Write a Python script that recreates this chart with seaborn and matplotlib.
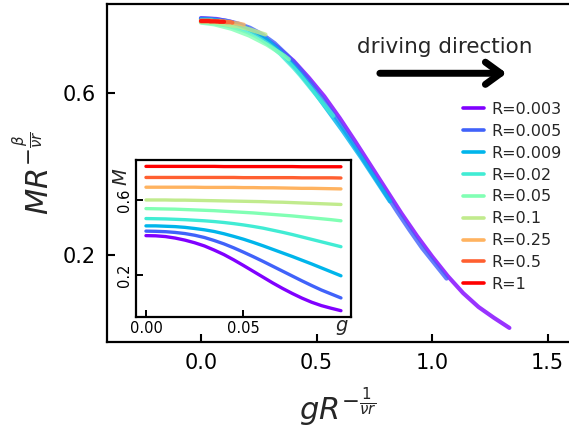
import numpy as np
import pandas as pd
import matplotlib
matplotlib.use("Agg")
import matplotlib.pyplot as plt
import seaborn as sns
from matplotlib.ticker import FormatStrFormatter

# ---------------- data ----------------
R_values = [0.003, 0.005, 0.009, 0.02, 0.05, 0.1, 0.25, 0.5, 1]
g_values = [0.000, 0.005, 0.010, 0.015, 0.020, 0.025, 0.030, 0.035, 0.040, 0.045, 0.050,
            0.055, 0.060, 0.065, 0.070, 0.075, 0.080, 0.085, 0.090, 0.095, 0.100]

M_R0003 = [0.410, 0.409, 0.405, 0.397, 0.386, 0.372, 0.355, 0.333, 0.309, 0.281, 0.251,
           0.220, 0.189, 0.158, 0.129, 0.102, 0.077, 0.055, 0.037, 0.023, 0.010]
M_R0005 = [0.434, 0.433, 0.431, 0.427, 0.421, 0.412, 0.400, 0.384, 0.366, 0.345, 0.322,
           0.298, 0.273, 0.247, 0.221, 0.195, 0.169, 0.144, 0.120, 0.099, 0.078]
M_R0009 = [0.462, 0.462, 0.460, 0.458, 0.454, 0.448, 0.441, 0.432, 0.420, 0.406, 0.391,
           0.374, 0.356, 0.337, 0.318, 0.299, 0.279, 0.259, 0.238, 0.217, 0.196]
M_R002 = [0.501, 0.500, 0.499, 0.497, 0.495, 0.492, 0.489, 0.485, 0.480, 0.474, 0.467,
          0.459, 0.450, 0.439, 0.428, 0.416, 0.403, 0.390, 0.377, 0.364, 0.351]
M_R005 = [0.554, 0.553, 0.552, 0.551, 0.549, 0.547, 0.545, 0.543, 0.540, 0.537, 0.534,
          0.531, 0.527, 0.523, 0.519, 0.515, 0.510, 0.505, 0.500, 0.495, 0.489]
M_R01 = [0.600, 0.600, 0.600, 0.599, 0.599, 0.598, 0.597, 0.596, 0.595, 0.594, 0.593,
         0.592, 0.591, 0.589, 0.588, 0.586, 0.584, 0.582, 0.580, 0.578, 0.576]
M_R025 = [0.668, 0.668, 0.668, 0.668, 0.668, 0.668, 0.667, 0.667, 0.667, 0.667, 0.666,
          0.666, 0.665, 0.665, 0.664, 0.663, 0.662, 0.662, 0.661, 0.660, 0.659]
M_R05 = [0.720, 0.720, 0.720, 0.720, 0.720, 0.720, 0.720, 0.720, 0.720, 0.720, 0.719,
         0.719, 0.719, 0.719, 0.719, 0.719, 0.718, 0.718, 0.718, 0.718, 0.717]
M_R1 = [0.779, 0.779, 0.779, 0.779, 0.779, 0.779, 0.779, 0.779, 0.778, 0.778, 0.778,
        0.778, 0.778, 0.778, 0.778, 0.778, 0.777, 0.777, 0.777, 0.777, 0.777]

M_series = [M_R0003, M_R0005, M_R0009, M_R002, M_R005, M_R01, M_R025, M_R05, M_R1]

# scaling exponents used for the data collapse
inv_nu_r = 0.446        # 1/(nu r)
beta_over_nu_r = 0.112  # beta/(nu r)

labels = [f"R={r}" for r in R_values]

rows = []
for R, lab, Ms in zip(R_values, labels, M_series):
    for g, m in zip(g_values, Ms):
        rows.append({"R": lab, "g": g, "M": m,
                     "x": g * R ** (-inv_nu_r),
                     "y": m * R ** (-beta_over_nu_r)})
df = pd.DataFrame(rows)

# ---------------- style ----------------
sns.set_style("ticks")
plt.rcParams["font.family"] = ["DejaVu Sans"]
plt.rcParams["mathtext.fontset"] = "dejavusans"

colors = [plt.cm.rainbow(v) for v in np.linspace(0, 1, len(R_values))]
palette = dict(zip(labels, colors))

W, H = 569, 434
fig = plt.figure(figsize=(W / 100, H / 100), dpi=100)

# main axes
mx0, mx1, my0, my1 = 107.3, 569.0, 4.0, 341.7
ax = fig.add_axes([mx0 / W, (H - my1) / H, (mx1 - mx0) / W, (my1 - my0) / H])
sns.lineplot(data=df, x="x", y="y", hue="R", hue_order=labels, palette=palette,
             sort=False, estimator=None, lw=3.0, alpha=0.8, ax=ax, legend=True)

ax.set_xlim(-0.405, 1.592)
ax.set_ylim(-0.015, 0.821)
ax.set_xticks([0.0, 0.5, 1.0, 1.5])
ax.set_yticks([0.2, 0.6])
ax.xaxis.set_major_formatter(FormatStrFormatter("%.1f"))
ax.yaxis.set_major_formatter(FormatStrFormatter("%.1f"))
ax.tick_params(direction="in", length=6, width=1.5, labelsize=15, pad=8, colors="black")
for side in ["left", "bottom", "top"]:
    ax.spines[side].set_linewidth(1.6)
    ax.spines[side].set_color("black")
ax.spines["right"].set_visible(False)
ax.set_xlabel(r"$gR^{-\frac{1}{\nu r}}$", fontsize=22, labelpad=9)
ax.set_ylabel(r"$MR^{-\frac{\beta}{\nu r}}$", fontsize=22, labelpad=6)

# legend
handles, labs = ax.get_legend_handles_labels()
for h in handles:
    h.set_alpha(1.0)
    h.set_linewidth(2.6)
ax.legend(handles, labs, loc="upper left", bbox_to_anchor=(463 / W, (H - 102) / H),
          bbox_transform=fig.transFigure, frameon=False, borderpad=0, borderaxespad=0,
          handlelength=1.3, handletextpad=0.45, labelspacing=0.43, fontsize=11.5)

# driving direction annotation
ax.annotate("", xy=(1.322, 0.6495), xytext=(0.774, 0.6495), xycoords="data",
            arrowprops=dict(arrowstyle="->,head_length=0.55,head_width=0.4",
                            lw=5, color="black", mutation_scale=20,
                            shrinkA=0, shrinkB=0))
ax.text(1.055, 0.699, "driving direction", ha="center", va="baseline", fontsize=15.5)

# inset axes
ix0, ix1, iy0, iy1 = 136.0, 350.7, 160.0, 316.7
axi = fig.add_axes([ix0 / W, (H - iy1) / H, (ix1 - ix0) / W, (iy1 - iy0) / H])
sns.lineplot(data=df, x="g", y="M", hue="R", hue_order=labels, palette=palette,
             sort=False, estimator=None, lw=2.4, ax=axi, legend=False)
axi.set_xlim(-0.0051, 0.105)
axi.set_ylim(-0.022, 0.813)
axi.set_xticks([0.0, 0.05])
axi.set_yticks([0.2, 0.6])
axi.xaxis.set_major_formatter(FormatStrFormatter("%.2f"))
axi.yaxis.set_major_formatter(FormatStrFormatter("%.1f"))
axi.tick_params(direction="in", length=5, width=1.4, labelsize=10.5, pad=3, colors="black")
for lab in axi.get_yticklabels():
    lab.set_rotation(90)
    lab.set_va("center")
for side in axi.spines.values():
    side.set_linewidth(1.6)
    side.set_color("black")
axi.set_xlabel(r"$g$", fontsize=14)
axi.set_ylabel(r"$M$", fontsize=14)
axi.xaxis.set_label_coords(0.96, -0.01)
axi.yaxis.set_label_coords(-0.025, 0.89)

fig.savefig("out.png", dpi=100)
